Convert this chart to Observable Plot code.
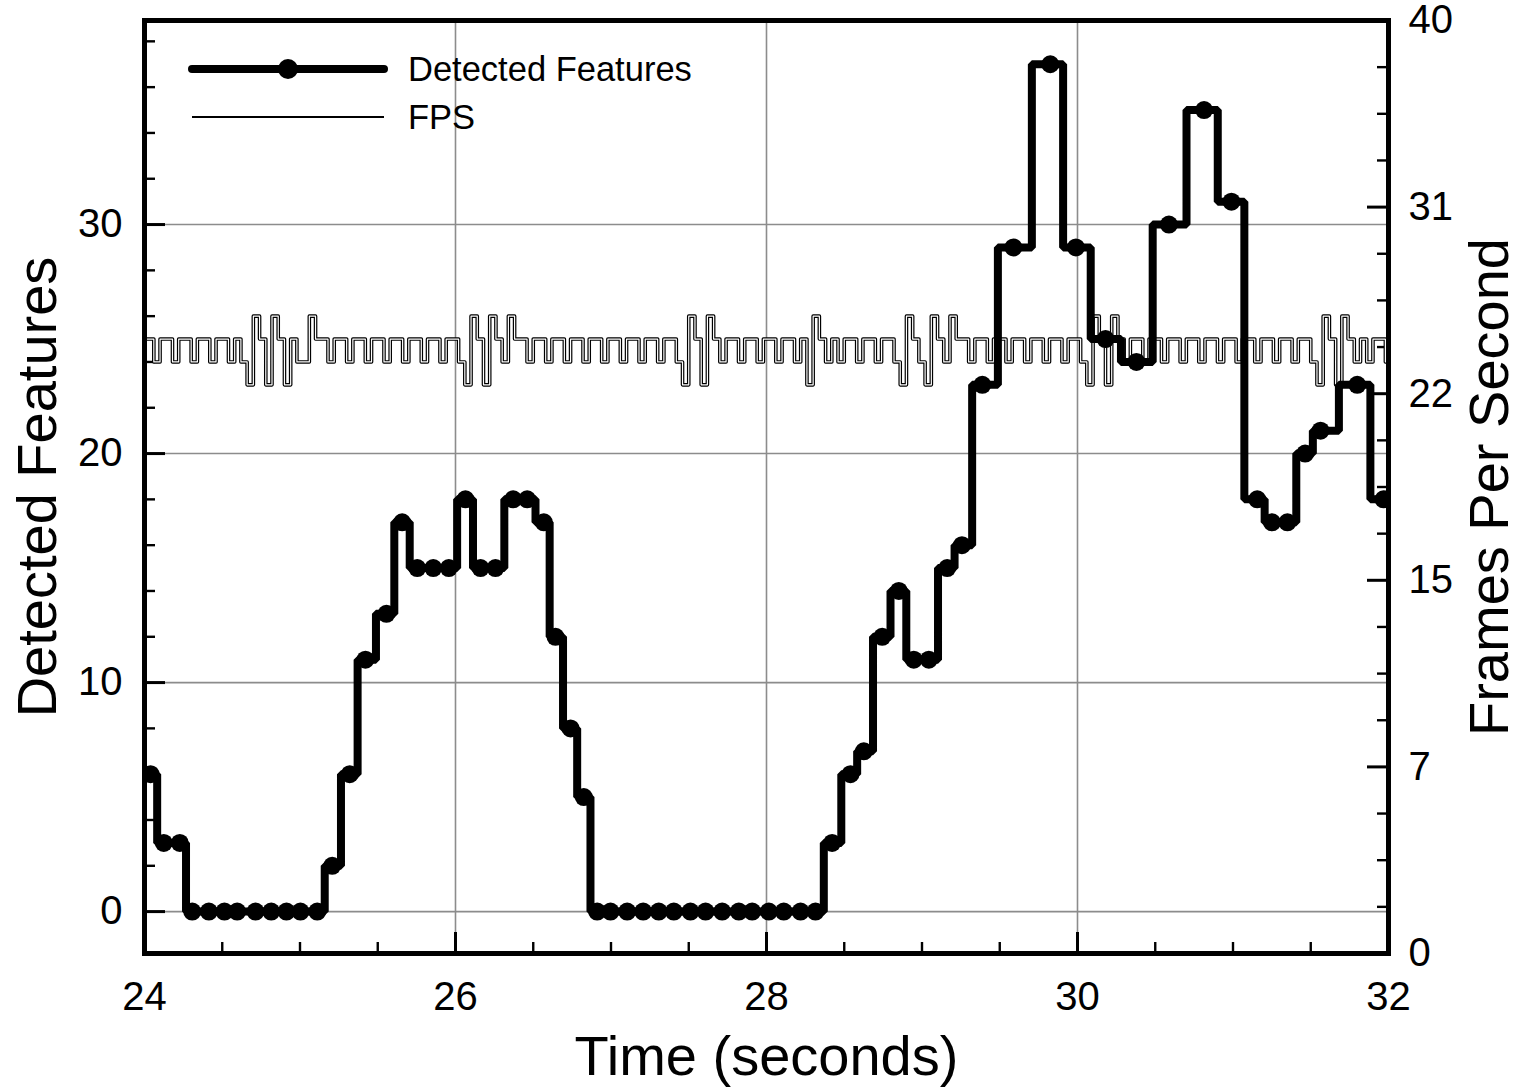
<!DOCTYPE html>
<html><head><meta charset="utf-8">
<script src="https://cdn.jsdelivr.net/npm/d3@7"></script>
<script src="https://cdn.jsdelivr.net/npm/@observablehq/plot@0.6"></script>
<style>
body{margin:0;background:#fff;}
#wrap{position:relative;width:1520px;height:1091px;font-family:"Liberation Sans",Arial,sans-serif;}
#legend{position:absolute;left:0;top:0;}
</style></head><body><div id="wrap"></div>
<script>
// ---- data ----
const featureTimes = [24.039,24.124,24.227,24.307,24.414,24.514,24.596,24.714,24.815,24.913,25.003,25.111,25.207,25.320,25.421,25.556,25.657,25.754,25.857,25.957,26.064,26.161,26.257,26.371,26.461,26.568,26.643,26.740,26.825,26.911,26.997,27.104,27.207,27.307,27.404,27.511,27.608,27.715,27.822,27.908,28.015,28.111,28.219,28.315,28.422,28.540,28.626,28.744,28.851,28.947,29.044,29.162,29.257,29.388,29.588,29.825,29.990,30.180,30.379,30.588,30.814,30.990,31.156,31.251,31.350,31.464,31.563,31.799,31.968];
const featureCounts = [6,3,3,0,0,0,0,0,0,0,0,0,2,6,11,13,17,15,15,15,18,15,15,18,18,17,12,8,5,0,0,0,0,0,0,0,0,0,0,0,0,0,0,0,3,6,7,12,14,11,11,15,16,23,29,37,29,25,24,30,35,31,18,17,17,20,21,23,18];

// FPS samples, one every 0.04 s from 24 s (digit d = 20 + d frames per second)
const fpsStart = 24, fpsInterval = 0.04;
const fpsDigits =
  "5545545545545545" +
  "436536535446554" +
  "554554554554554554554" +
  "365365465" +
  "54554554554554554554554554" +
  "3653654" +
  "5545545545545" +
  "3654" +
  "54554554554" +
  "3654365465" +
  "54554554554554554554" +
  "3653654" +
  "554554554554554554554554554554" +
  "3653654" +
  "54554";

const xMajorTicks = [24, 26, 28, 30, 32];
const xGrid = [26, 28, 30];
const yMajorTicks = [0, 10, 20, 30];
const rightTickLabels = ["0", "7", "15", "22", "31", "40"];
const legendLabels = ["Detected Features", "FPS"];
const xTitle = "Time (seconds)", yTitle = "Detected Features", y2Title = "Frames Per Second";

// ---- build ----
const features = featureTimes.map((t, i) => ({t, v: featureCounts[i]}));
const fps = fpsDigits.split("").map((c, i) => ({t: fpsStart + i * fpsInterval, v: 20 + +c}));

const W = 1520, H = 1091, mL = 144, mR = 132, mT = 20, mB = 138;
const frameW = W - mL - mR, frameH = H - mT - mB;
const yDomain = [-1.83, 38.91];
const rightTicks = rightTickLabels.map((_, i) => yDomain[0] + i / 5 * (yDomain[1] - yDomain[0]));
const rightLabelMap = new Map(rightTicks.map((v, i) => [v, rightTickLabels[i]]));
const rightMinor = d3.range(21).filter(k => k % 4).map(k => yDomain[0] + k / 20 * (yDomain[1] - yDomain[0]));
const yMinor = d3.range(0, 39, 2).filter(v => v % 10);
const xMinor = d3.range(24.5, 32, 0.5).filter(v => v % 2);
const gridStyle = {stroke: "#8c8c8c", strokeOpacity: 1, strokeWidth: 1.6};
const font = "'Liberation Sans', Arial, sans-serif";

const chart = Plot.plot({
  width: W, height: H,
  marginLeft: mL, marginRight: mR, marginTop: mT, marginBottom: mB,
  style: {fontFamily: font, background: "white", color: "black", overflow: "visible"},
  x: {domain: [24, 32], axis: null},
  y: {domain: yDomain, axis: null},
  marks: [
    Plot.gridX(xGrid, gridStyle),
    Plot.gridY(yMajorTicks, gridStyle),
    // inward ticks
    Plot.ruleY(yMajorTicks, {insetRight: frameW - 21, strokeWidth: 3}),
    Plot.ruleY(yMinor, {insetRight: frameW - 11, strokeWidth: 2.4}),
    Plot.ruleY(rightTicks, {insetLeft: frameW - 21, strokeWidth: 3}),
    Plot.ruleY(rightMinor, {insetLeft: frameW - 11, strokeWidth: 2.4}),
    Plot.ruleX(xMajorTicks, {insetTop: frameH - 21, strokeWidth: 3}),
    Plot.ruleX(xMinor, {insetTop: frameH - 11, strokeWidth: 2.4}),
    // FPS (hollow thin line)
    Plot.line(fps, {x: "t", y: "v", curve: "step", stroke: "black", strokeWidth: 3.6, clip: true}),
    Plot.line(fps, {x: "t", y: "v", curve: "step", stroke: "white", strokeWidth: 1.2, clip: true}),
    // Detected features
    Plot.line(features, {x: "t", y: "v", curve: "step", stroke: "black", strokeWidth: 8, strokeLinejoin: "miter", clip: true}),
    Plot.dot(features, {x: "t", y: "v", r: 9, fill: "black", stroke: null, clip: true}),
    // axes labels
    Plot.axisY(yMajorTicks, {anchor: "left", tickSize: 0, tickPadding: 22, fontSize: 40, label: null}),
    Plot.axisY(rightTicks, {anchor: "right", tickSize: 0, tickPadding: 20, fontSize: 40, label: null, tickFormat: d => rightLabelMap.get(d)}),
    Plot.axisX(xMajorTicks, {anchor: "bottom", tickSize: 0, tickPadding: 28, fontSize: 40, label: null, tickFormat: d => String(d)}),
    Plot.text([yTitle], {text: d => d, frameAnchor: "left", dx: -106, rotate: -90, fontSize: 56, textAnchor: "middle", lineAnchor: "middle"}),
    Plot.text([y2Title], {text: d => d, frameAnchor: "right", dx: 102, rotate: -90, fontSize: 56, textAnchor: "middle", lineAnchor: "middle"}),
    Plot.text([xTitle], {text: d => d, frameAnchor: "bottom", dy: 104, fontSize: 56, textAnchor: "middle", lineAnchor: "middle"}),
    Plot.frame({stroke: "black", strokeWidth: 5})
  ]
});
const wrap = document.getElementById("wrap");
wrap.appendChild(chart);

// legend (inside plot, top-left)
const lg = d3.select(wrap).append("svg").attr("id", "legend").attr("width", 760).attr("height", 150);
lg.append("line").attr("x1", 192).attr("x2", 384).attr("y1", 69).attr("y2", 69)
  .attr("stroke", "black").attr("stroke-width", 8).attr("stroke-linecap", "round");
lg.append("circle").attr("cx", 288).attr("cy", 69).attr("r", 10).attr("fill", "black");
lg.append("line").attr("x1", 192).attr("x2", 384).attr("y1", 117).attr("y2", 117)
  .attr("stroke", "black").attr("stroke-width", 2);
lg.selectAll("text").data(legendLabels).join("text")
  .attr("x", 408).attr("y", (d, i) => 69 + i * 48).attr("dy", "0.36em")
  .attr("font-family", font).attr("font-size", 34.5).text(d => d);
</script></body></html>
